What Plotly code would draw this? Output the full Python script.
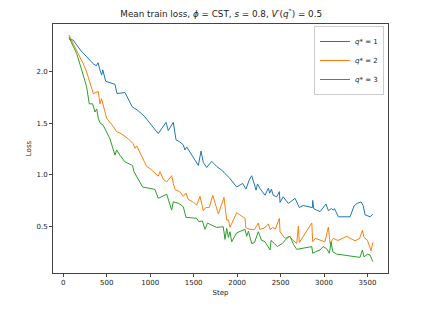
import plotly.graph_objects as go

# q* = 1
steps_q1 = [65, 115, 200, 345, 380, 400, 422, 442, 455, 488, 595, 618, 710, 794, 850, 932,
            1093, 1182, 1208, 1266, 1297, 1340, 1381, 1400, 1420, 1458, 1554, 1585, 1611, 1650,
            1708, 1765, 1830, 1861, 1911, 1995, 2030, 2064, 2102, 2140, 2168, 2195, 2218, 2235,
            2260, 2321, 2360, 2375, 2395, 2415, 2456, 2486, 2494, 2530, 2589, 2667, 2716, 2760,
            2866, 2870, 2880, 2916, 2954, 3023, 3050, 3085, 3107, 3120, 3165, 3300, 3345, 3380,
            3426, 3450, 3472, 3530, 3561]
loss_q1 = [2.32, 2.31, 2.21, 2.08, 2.06, 2.09, 2.02, 1.97, 2.02, 1.91, 1.88, 1.79, 1.80, 1.66, 1.63, 1.57,
           1.40, 1.51, 1.43, 1.51, 1.34, 1.32, 1.29, 1.24, 1.27, 1.22, 1.09, 1.23, 1.12, 1.07,
           1.13, 1.08, 1.04, 1.01, 0.97, 0.88, 0.90, 0.915, 0.86, 0.95, 0.99, 0.92, 0.85, 0.91,
           0.87, 0.80, 0.87, 0.82, 0.86, 0.80, 0.785, 0.835, 0.73, 0.785, 0.72, 0.77, 0.68, 0.70,
           0.68, 0.75, 0.67, 0.655, 0.64, 0.715, 0.65, 0.67, 0.655, 0.67, 0.59, 0.59, 0.695, 0.72,
           0.735, 0.70, 0.61, 0.59, 0.615]

# q* = 2
steps_q2 = [65, 173, 230, 269, 327, 345, 403, 422, 440, 460, 499, 575, 614, 665, 748, 806, 825, 845,
            883, 960, 998, 1093, 1113, 1151, 1190, 1247, 1266, 1285, 1340, 1381, 1412, 1438, 1500,
            1535, 1573, 1611, 1640, 1680, 1720, 1784, 1849, 1880, 1900, 1918, 1995, 2050, 2091,
            2100, 2148, 2200, 2244, 2260, 2310, 2360, 2380, 2410, 2440, 2486, 2494, 2551, 2601,
            2640, 2686, 2705, 2716, 2859, 2870, 2900, 2954, 3010, 3050, 3069, 3107, 3160, 3261,
            3357, 3410, 3441, 3460, 3500, 3541, 3561]
loss_q2 = [2.36, 2.18, 2.08, 2.00, 1.855, 1.79, 1.81, 1.69, 1.74, 1.68, 1.55, 1.47, 1.42, 1.40, 1.35, 1.30, 1.256, 1.28,
           1.21, 1.08, 1.06, 0.986, 1.03, 0.955, 0.93, 0.99, 0.915, 0.857, 0.834, 0.79, 0.82, 0.76, 0.73,
           0.704, 0.79, 0.65, 0.68, 0.68, 0.80, 0.617, 0.78, 0.558, 0.56, 0.487, 0.63, 0.60, 0.575,
           0.485, 0.467, 0.467, 0.53, 0.467, 0.48, 0.52, 0.467, 0.487, 0.47, 0.575, 0.445, 0.38, 0.40,
           0.364, 0.33, 0.50, 0.34, 0.53, 0.347, 0.38, 0.364, 0.347, 0.49, 0.33, 0.38, 0.36, 0.40,
           0.357, 0.38, 0.46, 0.39, 0.36, 0.26, 0.34]

# q* = 3
steps_q3 = [65, 154, 212, 269, 299, 338, 365, 385, 403, 422, 460, 537, 595, 614, 652, 710, 787, 798,
            813, 913, 1055, 1093, 1190, 1247, 1266, 1330, 1381, 1412, 1535, 1560, 1600, 1630, 1660,
            1680, 1765, 1841, 1861, 1880, 1900, 1918, 1938, 1995, 2091, 2110, 2130, 2168, 2200,
            2244, 2280, 2321, 2379, 2390, 2430, 2463, 2520, 2571, 2609, 2650, 2686, 2859, 2870,
            2900, 2954, 2990, 3030, 3061, 3081, 3100, 3146, 3318, 3414, 3441, 3460, 3500, 3530, 3561]
loss_q3 = [2.34, 2.18, 2.02, 1.855, 1.69, 1.69, 1.61, 1.64, 1.55, 1.505, 1.48, 1.35, 1.19, 1.24, 1.19, 1.125, 1.094, 1.087,
           1.03, 0.88, 0.857, 0.77, 0.81, 0.655, 0.736, 0.72, 0.688, 0.585, 0.575, 0.542, 0.55, 0.468, 0.53,
           0.52, 0.487, 0.493, 0.37, 0.478, 0.39, 0.445, 0.347, 0.434, 0.468, 0.40, 0.45, 0.33, 0.34,
           0.445, 0.364, 0.347, 0.267, 0.36, 0.33, 0.30, 0.33, 0.38, 0.40, 0.32, 0.273, 0.30, 0.235,
           0.25, 0.267, 0.30, 0.28, 0.235, 0.347, 0.25, 0.227, 0.208, 0.195, 0.267, 0.20, 0.227, 0.218, 0.153]

x_ticks = [0, 500, 1000, 1500, 2000, 2500, 3000, 3500]
y_ticks = [0.5, 1.0, 1.5, 2.0]
y_ticktext = ["0.5", "1.0", "1.5", "2.0"]

series = [
    (steps_q1, loss_q1, "<i>q</i>* = 1", "#1f77b4"),
    (steps_q2, loss_q2, "<i>q</i>* = 2", "#ff7f0e"),
    (steps_q3, loss_q3, "<i>q</i>* = 3", "#2ca02c"),
]

fig = go.Figure()
for xs, ys, name, color in series:
    fig.add_trace(go.Scatter(x=xs, y=ys, mode="lines", name=name,
                             line=dict(color=color, width=1)))

axis_common = dict(showline=True, linecolor="#444444", linewidth=1, mirror=True,
                   ticks="outside", ticklen=3, tickcolor="#444444", showgrid=False,
                   zeroline=False, tickfont=dict(size=7, color="#222222"))

# The page body has an 8px default margin, so the figure is sized to fit the window.
fig.update_layout(
    width=423, height=301,
    margin=dict(l=45, r=43, t=16, b=36),
    paper_bgcolor="white", plot_bgcolor="white",
    font=dict(family="DejaVu Sans", size=7, color="#222222"),
    title=dict(text="Mean train loss, <i>ϕ</i> = CST, <i>s</i> = 0.8, <i>V</i>′(<i>q</i><sup>*</sup>) = 0.5",
               x=0.504, xanchor="center", y=0.98, yanchor="middle",
               font=dict(size=8.8, color="#222222")),
    xaxis=dict(range=[-118, 3736], tickvals=x_ticks,
               title=dict(text="Step", font=dict(size=7), standoff=3), **axis_common),
    yaxis=dict(range=[0.043, 2.467], tickvals=y_ticks, ticktext=y_ticktext,
               title=dict(text="Loss", font=dict(size=7), standoff=4), **axis_common),
    legend=dict(x=0.988, y=0.992, xanchor="right", yanchor="top",
                bordercolor="#cccccc", borderwidth=1, bgcolor="rgba(255,255,255,0.8)",
                font=dict(size=7), itemwidth=30, tracegroupgap=0),
    showlegend=True,
)

fig.write_html("out.html")
